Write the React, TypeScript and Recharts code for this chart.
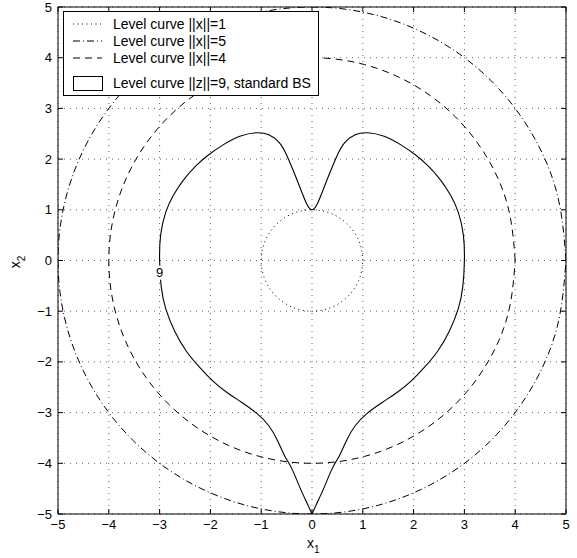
import { LineChart, Line, XAxis, YAxis, CartesianGrid, ReferenceArea, ReferenceDot } from 'recharts';

const W = 577;
const H = 558;
const TOP = 7;
const RIGHT = 11;
const LEFT_W = 58;
const BOTTOM_H = 44;
const FONT = '"Liberation Sans", Arial, Helvetica, sans-serif';

const ticks = [-5, -4, -3, -2, -1, 0, 1, 2, 3, 4, 5];

// ||x||=1
const ring1X = [1, 0.966, 0.866, 0.707, 0.5, 0.259, 0, -0.259, -0.5, -0.707, -0.866, -0.966, -1, -0.966, -0.866, -0.707, -0.5, -0.259, 0, 0.259, 0.5, 0.707, 0.866, 0.966, 1];
const ring1Y = [0, 0.259, 0.5, 0.707, 0.866, 0.966, 1, 0.966, 0.866, 0.707, 0.5, 0.259, 0, -0.259, -0.5, -0.707, -0.866, -0.966, -1, -0.966, -0.866, -0.707, -0.5, -0.259, 0];

// ||x||=4
const ring4X = [4, 3.864, 3.464, 2.828, 2, 1.035, 0, -1.035, -2, -2.828, -3.464, -3.864, -4, -3.864, -3.464, -2.828, -2, -1.035, 0, 1.035, 2, 2.828, 3.464, 3.864, 4];
const ring4Y = [0, 1.035, 2, 2.828, 3.464, 3.864, 4, 3.864, 3.464, 2.828, 2, 1.035, 0, -1.035, -2, -2.828, -3.464, -3.864, -4, -3.864, -3.464, -2.828, -2, -1.035, 0];

// ||x||=5
const ring5X = [5, 4.83, 4.33, 3.536, 2.5, 1.294, 0, -1.294, -2.5, -3.536, -4.33, -4.83, -5, -4.83, -4.33, -3.536, -2.5, -1.294, 0, 1.294, 2.5, 3.536, 4.33, 4.83, 5];
const ring5Y = [0, 1.294, 2.5, 3.536, 4.33, 4.83, 5, 4.83, 4.33, 3.536, 2.5, 1.294, 0, -1.294, -2.5, -3.536, -4.33, -4.83, -5, -4.83, -4.33, -3.536, -2.5, -1.294, 0];

// ||z||=9: bottom tip, up the right side, through the dip at (0,1), down the left side
const heartX = [
  0, 0.11, 0.25, 0.4, 0.54, 0.68, 0.85, 1.08, 1.38, 1.68, 1.96, 2.22, 2.48, 2.7, 2.88, 2.97, 3.0,
  2.98, 2.88, 2.72, 2.52, 2.29, 2.04, 1.75, 1.42, 1.1, 0.85, 0.64, 0.5, 0.38, 0.26, 0.12, 0,
  -0.12, -0.26, -0.38, -0.5, -0.64, -0.85, -1.1, -1.42, -1.75, -2.04, -2.29, -2.52, -2.72, -2.88, -2.98,
  -3.0, -2.97, -2.88, -2.7, -2.48, -2.22, -1.96, -1.68, -1.38, -1.08, -0.85, -0.68, -0.54, -0.4, -0.25, -0.11, 0,
];
const heartY = [
  -5, -4.76, -4.45, -4.1, -3.85, -3.55, -3.26, -3.02, -2.8, -2.6, -2.37, -2.1, -1.78, -1.4, -0.95, -0.5, 0,
  0.5, 0.95, 1.3, 1.6, 1.86, 2.08, 2.28, 2.45, 2.52, 2.48, 2.32, 2.08, 1.8, 1.5, 1.15, 1.0,
  1.15, 1.5, 1.8, 2.08, 2.32, 2.48, 2.52, 2.45, 2.28, 2.08, 1.86, 1.6, 1.3, 0.95, 0.5,
  0, -0.5, -0.95, -1.4, -1.78, -2.1, -2.37, -2.6, -2.8, -3.02, -3.26, -3.55, -3.85, -4.1, -4.45, -4.76, -5,
];

const legendLabels = ['Level curve ||x||=1', 'Level curve ||x||=5', 'Level curve ||x||=4', 'Level curve ||z||=9, standard BS'];

const zip = (xs: number[], ys: number[]) => xs.map((x, i) => ({ x, y: ys[i] }));

const ring1 = zip(ring1X, ring1Y);
const ring4 = zip(ring4X, ring4Y);
const ring5 = zip(ring5X, ring5Y);
const heart = zip(heartX, heartY);

const fmt = (v: number) => (v < 0 ? `\u2212${Math.abs(v)}` : `${v}`);

const XTick = (props: any) => {
  const { x, y, payload } = props;
  return (
    <g>
      <line x1={x} y1={y} x2={x} y2={y - 5} stroke="#000" />
      <line x1={x} y1={TOP} x2={x} y2={TOP + 5} stroke="#000" />
      <text x={x} y={y + 6} dy="0.71em" textAnchor="middle" fontSize={13} fontFamily={FONT} fill="#000">
        {fmt(payload.value)}
      </text>
    </g>
  );
};

const YTick = (props: any) => {
  const { x, y, payload } = props;
  return (
    <g>
      <line x1={x} y1={y} x2={x + 5} y2={y} stroke="#000" />
      <line x1={W - RIGHT} y1={y} x2={W - RIGHT - 5} y2={y} stroke="#000" />
      <text x={x - 6} y={y} dy="0.35em" textAnchor="end" fontSize={13} fontFamily={FONT} fill="#000">
        {fmt(payload.value)}
      </text>
    </g>
  );
};

const ContourLabel = (props: any) => {
  const { cx, cy } = props;
  return (
    <g>
      <rect x={cx - 4} y={cy - 7} width={8} height={14} fill="#fff" />
      <text x={cx} y={cy} dy="0.35em" textAnchor="middle" fontSize={13} fontFamily={FONT} fill="#000">9</text>
    </g>
  );
};

export default function App() {
  const rows = [
    { y: 24, dash: '1 3.5' },
    { y: 41, dash: '7 3 1 3' },
    { y: 58, dash: '7 5' },
  ];

  return (
    <div style={{ position: 'absolute', left: 0, top: 0, width: W, height: H, background: '#fff' }}>
      <LineChart width={W} height={H} margin={{ top: TOP, right: RIGHT, bottom: 0, left: 0 }}>
        <CartesianGrid stroke="#666" strokeDasharray="1 5" />
        <XAxis
          type="number"
          dataKey="x"
          domain={[-5, 5]}
          ticks={ticks}
          interval={0}
          allowDataOverflow
          height={BOTTOM_H}
          axisLine={false}
          tickLine={false}
          tickSize={0}
          tickMargin={0}
          tick={<XTick />}
        />
        <YAxis
          type="number"
          dataKey="y"
          domain={[-5, 5]}
          ticks={ticks}
          interval={0}
          allowDataOverflow
          width={LEFT_W}
          axisLine={false}
          tickLine={false}
          tickSize={0}
          tickMargin={0}
          tick={<YTick />}
        />
        <Line data={ring5} dataKey="y" type="natural" stroke="#000" strokeWidth={1} strokeDasharray="7 3 1 3" dot={false} activeDot={false} isAnimationActive={false} />
        <Line data={ring4} dataKey="y" type="natural" stroke="#000" strokeWidth={1} strokeDasharray="7 5" dot={false} activeDot={false} isAnimationActive={false} />
        <Line data={ring1} dataKey="y" type="natural" stroke="#000" strokeWidth={1} strokeDasharray="1 3.5" dot={false} activeDot={false} isAnimationActive={false} />
        <Line data={heart} dataKey="y" type="natural" stroke="#000" strokeWidth={1.1} dot={false} activeDot={false} isAnimationActive={false} />
        <ReferenceDot x={-3} y={-0.24} r={0} shape={<ContourLabel />} />
        <ReferenceArea x1={-5} x2={5} y1={-5} y2={5} fill="none" fillOpacity={0} stroke="#000" strokeWidth={1} />
      </LineChart>

      <svg width={W} height={H} style={{ position: 'absolute', left: 0, top: 0, pointerEvents: 'none' }}>
        <rect x={63.5} y={11.5} width={255} height={84} fill="#fff" stroke="#000" />
        {rows.map((r, i) => (
          <g key={i}>
            <line x1={73} y1={r.y} x2={102} y2={r.y} stroke="#000" strokeDasharray={r.dash} />
            <text x={113} y={r.y} dy="0.35em" fontSize={14} fontFamily={FONT} fill="#000">{legendLabels[i]}</text>
          </g>
        ))}
        <rect x={73.5} y={76.5} width={29} height={14} fill="none" stroke="#000" />
        <text x={113} y={83} dy="0.35em" fontSize={14} fontFamily={FONT} fill="#000">{legendLabels[3]}</text>

        <text x={307} y={548} fontSize={14} fontFamily={FONT} fill="#000">
          x<tspan fontSize={10} dy={5}>1</tspan>
        </text>
        <text transform="translate(20 262) rotate(-90)" fontSize={14} fontFamily={FONT} fill="#000" textAnchor="middle">
          x<tspan fontSize={10} dy={5}>2</tspan>
        </text>
      </svg>
    </div>
  );
}
